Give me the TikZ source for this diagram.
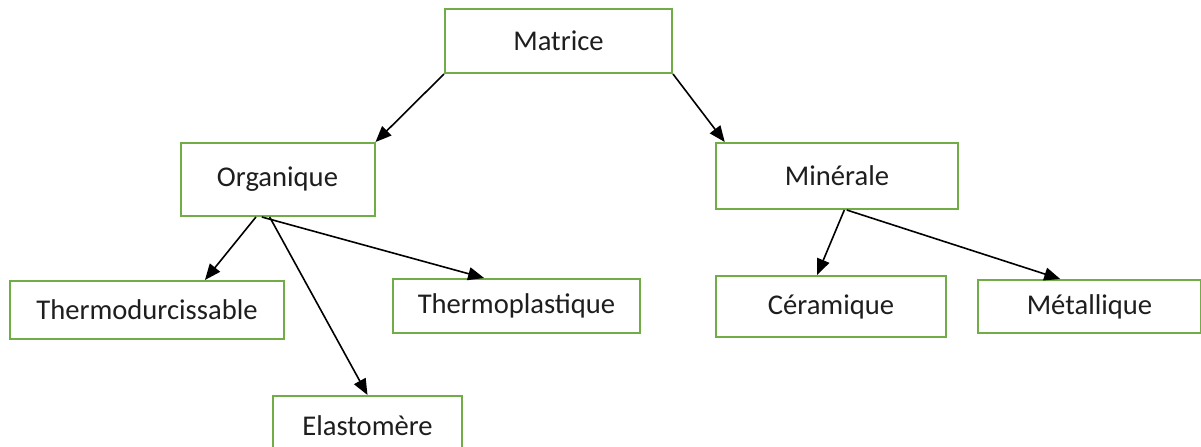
\documentclass[tikz,border=0pt]{standalone}
\usepackage{fontspec}
\setmainfont{Carlito}
\usetikzlibrary{arrows.meta,calc}
\definecolor{boxgreen}{RGB}{112,173,71}
\definecolor{txtgray}{RGB}{30,30,30}

\begin{document}
\begin{tikzpicture}[x=0.5pt,y=-0.5pt,
    cat/.style={draw=boxgreen,line width=1pt,fill=white,inner sep=0pt,
      text=txtgray,font=\fontsize{14.3}{17}\selectfont},
    fleche/.style={-{Triangle[length=8pt,width=6.5pt]},line width=0.8pt,black}]
          \clip (0,0) rectangle (1201,446);
          \fill[white] (0,0) rectangle (1201,446);
          \node[cat,minimum width=113.5pt,minimum height=32pt] (mat) at (558.5,41) {Matrice};
          \node[cat,minimum width=97pt,minimum height=36.5pt] (org) at (277.5,179.5) {Organique};
          \node[cat,minimum width=121pt,minimum height=33pt] (mine) at (837,176) {Minérale};
          \node[cat,minimum width=137pt,minimum height=29pt] (thd) at (147,310) {Thermodurcissable};
          \node[cat,minimum width=123.5pt,minimum height=27pt] (thp) at (516.5,306) {Thermoplastique};
          \node[cat,minimum width=94.5pt,minimum height=30pt] (ela) at (367.5,426) {Elastomère};
          \node[cat,minimum width=115pt,minimum height=30.5pt] (cer) at (831,306.5) {Céramique};
          \node[cat,minimum width=111.5pt,minimum height=26.5pt] (met) at (1089.5,306.5) {Métallique};
          \draw[fleche] (mat.south west) -- (org.north east);
          \draw[fleche] (mat.south east) -- ($(mine.north west)!0.04!(mine.north east)$);
          \draw[fleche] ($(org.south west)!0.39!(org.south east)$) -- ($(thd.north west)!0.71!(thd.north east)$);
          \draw[fleche] ($(org.south west)!0.46!(org.south east)$) -- (ela.north);
          \draw[fleche] ($(org.south west)!0.42!(org.south east)$) -- ($(thp.north west)!0.37!(thp.north east)$);
          \draw[fleche] ($(mine.south west)!0.53!(mine.south east)$) -- ($(cer.north west)!0.44!(cer.north east)$);
          \draw[fleche] ($(mine.south west)!0.54!(mine.south east)$) -- ($(met.north west)!0.37!(met.north east)$);
        \end{tikzpicture}
\end{document}
